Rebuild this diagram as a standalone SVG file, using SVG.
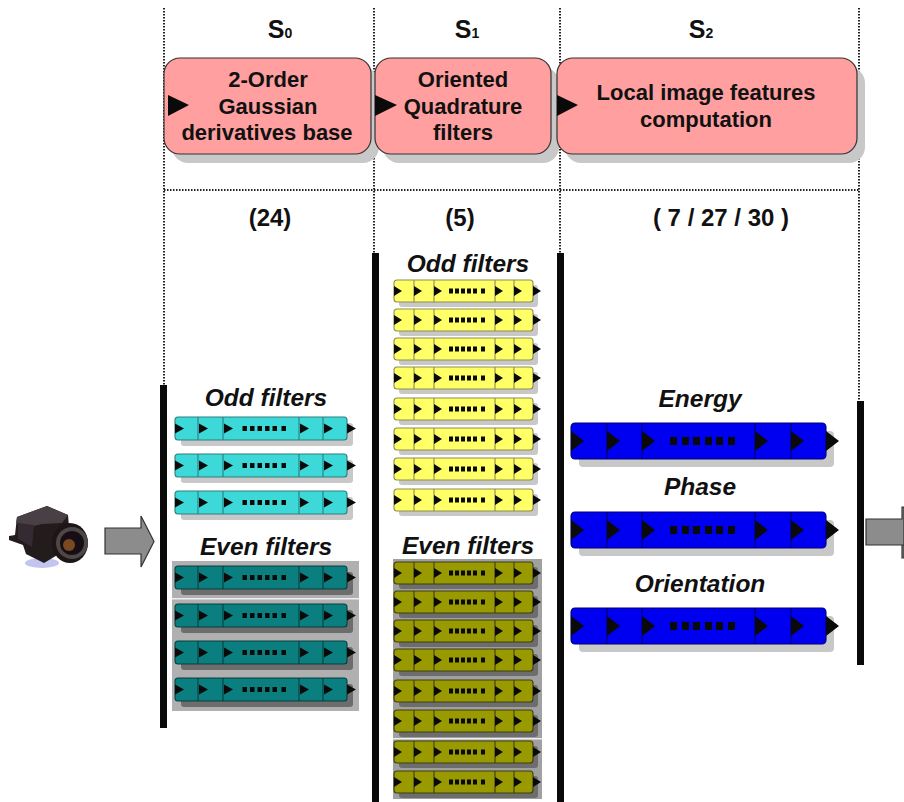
<svg xmlns="http://www.w3.org/2000/svg" xmlns:xlink="http://www.w3.org/1999/xlink" width="904" height="802" viewBox="0 0 904 802">
<style>
text{font-family:"Liberation Sans",Arial,sans-serif;font-weight:bold;fill:#111;text-anchor:middle}
.t{font-size:22px}
.h{font-size:25px}
.sub{font-size:14px}
.i{font-size:24.500px;font-style:italic}
.n{font-size:24px}
.dot{fill:none;stroke:#222;stroke-width:2;stroke-dasharray:1.5 1.5}
.rail{fill:#0a0a0a}
.box{fill:#ff9f9f;stroke:#333;stroke-width:1.2}
.shade{fill:#c8c8c8}
.hd{fill:#0a0a0a}
.big{fill:#8c8c8c;stroke:#333;stroke-width:1.2}
.bar{stroke-width:1.1}
.cy{fill:#3dd8d8;stroke:#2c7f7f}
.te{fill:#0b7f7f;stroke:#063f3f}
.ye{fill:#ffff66;stroke:#8d8d50}
.ol{fill:#999900;stroke:#3f3f10}
.bl{fill:#0000f0;stroke:#000070}
.sl{fill:#c8c8c8}
.sd{fill:#6d6d6d}
.panelA{fill:#b0b0b0}
.panelB{fill:#a0a0a0}
</style>
<defs>
<filter id="soft" x="-10%" y="-10%" width="120%" height="120%"><feGaussianBlur stdDeviation="0.7"/></filter>
<g id="marksA">
<path class="hd" d="M0 6.500l9 5-9 5zM24 6.500l9 5-9 5zM49 6.500l9 5-9 5zM125 6.500l9 5-9 5zM149 6.500l9 5-9 5zM172 6.500l9 5-9 5z"/>
<path class="hd" d="M67.500 9h4.500v5h-4.500zM75 9h4.500v5h-4.500zM82.500 9h4.500v5h-4.500zM90 9h4.500v5h-4.500zM97.500 9h4.500v5h-4.500zM106.500 9h4.500v5h-4.500z"/>
</g>
<g id="marksB">
<path class="hd" d="M0 6l8 5-8 5zM20 6l8 5-8 5zM40 6l8 5-8 5zM101 6l8 5-8 5zM120 6l8 5-8 5zM139 6l8 5-8 5z"/>
<path class="hd" d="M55 8.500h4v5h-4zM61 8.500h4v5h-4zM67 8.500h4v5h-4zM73 8.500h4v5h-4zM79 8.500h4v5h-4zM87 8.500h4v5h-4z"/>
</g>
<g id="cyan">
<rect class="sl" x="6" y="6" width="172" height="23" rx="3"/>
<path class="bar cy" d="M3 0H169a3 3 0 0 1 3 3V20a3 3 0 0 1-3 3H3a3 3 0 0 1-3-3V3a3 3 0 0 1 3-3z"/>
<path class="bar cy" d="M23 0V23M48 0V23M124 0V23M148 0V23"/><use href="#marksA"/>
</g>
<g id="teal">
<rect class="sd" x="6" y="6" width="172" height="23" rx="3"/>
<path class="bar te" d="M3 0H169a3 3 0 0 1 3 3V20a3 3 0 0 1-3 3H3a3 3 0 0 1-3-3V3a3 3 0 0 1 3-3z"/>
<path class="bar te" d="M23 0V23M48 0V23M124 0V23M148 0V23"/><use href="#marksA"/>
</g>
<g id="yellow">
<rect class="sl" x="5" y="5" width="139" height="22" rx="3"/>
<path class="bar ye" d="M3 0H136a3 3 0 0 1 3 3V19a3 3 0 0 1-3 3H3a3 3 0 0 1-3-3V3a3 3 0 0 1 3-3z"/>
<path class="bar ye" d="M20 0V22M40 0V22M101 0V22M120 0V22"/><use href="#marksB"/>
</g>
<g id="olive">
<rect class="sd" x="5" y="5" width="139" height="22" rx="3"/>
<path class="bar ol" d="M3 0H136a3 3 0 0 1 3 3V19a3 3 0 0 1-3 3H3a3 3 0 0 1-3-3V3a3 3 0 0 1 3-3z"/>
<path class="bar ol" d="M20 0V22M40 0V22M101 0V22M120 0V22"/><use href="#marksB"/>
</g>
<g id="blue">
<rect class="sl" x="8" y="8" width="255" height="36" rx="4"/>
<path class="bar bl" d="M4 0H251a4 4 0 0 1 4 4V32a4 4 0 0 1-4 4H4a4 4 0 0 1-4-4V4a4 4 0 0 1 4-4z"/>
<path class="bar bl" d="M36 0V36M71 0V36M184 0V36M220 0V36"/>
<path class="hd" d="M0 8l13 10-13 10zM36 8l13 10-13 10zM71 8l13 10-13 10zM184 8l13 10-13 10zM220 8l13 10-13 10zM255 8l13 10-13 10z"/>
<path class="hd" d="M99 14h7v8h-7zM111 14h7v8h-7zM122 14h7v8h-7zM134 14h7v8h-7zM145 14h7v8h-7zM157 14h7v8h-7z"/>
</g>
</defs>

<g id="connectors">
<path class="dot" d="M164 8V385M374 8V253M560 8V253M859 8V401M164 190H859"/>
<rect class="rail" x="160" y="385" width="7" height="343"/>
<rect class="rail" x="372" y="253" width="7" height="549"/>
<rect class="rail" x="557" y="253" width="7" height="549"/>
<rect class="rail" x="857" y="401" width="7" height="264"/>
<path class="big" d="M105 528H141V516L154 541.500 141 567V554H105Z"/>
<path class="big" d="M904 519V545H866V519H902V507H904V558H902V545"/>
</g>

<g id="camera">
<g filter="url(#soft)">
<ellipse cx="42" cy="563" rx="17" ry="5" fill="#c4c4f0"/>
<path d="M9 536l6-1 2-18 30-11 21 9 1 12-10 27-15 9-18-9-3-9-14-5z" fill="#221a1c"/>
<path d="M17 517l30-11 21 9-6 8-20 1-8 2-18-3z" fill="#4a4144"/>
<path d="M18 523l16 2-2 22-14-8z" fill="#352c30"/>
<ellipse cx="70" cy="543" rx="18" ry="20" fill="#1e1819"/>
<circle cx="72" cy="543" r="16" fill="#4d4644"/>
<circle cx="72" cy="543" r="12" fill="#141012"/>
<circle cx="69" cy="545" r="6" fill="#7a4a22"/>
</g>
</g>

<g id="s0">
<text class="h" x="280" y="38">S<tspan class="sub">0</tspan></text>
<rect class="shade" x="172" y="67" width="207" height="96" rx="16"/>
<rect class="box" x="164" y="58" width="207" height="96" rx="16"/>
<path class="hd" d="M168 95l21 10-21 11z"/>
<text class="t" x="268" y="87">2-Order</text>
<text class="t" x="268" y="114">Gaussian</text>
<text class="t" x="267" y="140">derivatives base</text>
<text class="n" x="270" y="226">(24)</text>
</g>

<g id="s1">
<text class="h" x="467" y="38">S<tspan class="sub">1</tspan></text>
<rect class="shade" x="383" y="67" width="176" height="96" rx="16"/>
<rect class="box" x="375" y="58" width="176" height="96" rx="16"/>
<path class="hd" d="M375 95l22 10-22 11z"/>
<text class="t" x="463" y="87">Oriented</text>
<text class="t" x="463" y="114">Quadrature</text>
<text class="t" x="463" y="140">filters</text>
<text class="n" x="460" y="226">(5)</text>
</g>

<g id="s2">
<text class="h" x="701" y="38">S<tspan class="sub">2</tspan></text>
<rect class="shade" x="565" y="67" width="300" height="96" rx="16"/>
<rect class="box" x="557" y="58" width="300" height="96" rx="16"/>
<path class="hd" d="M557 95l21 10-21 11z"/>
<text class="t" x="706" y="100">Local image features</text>
<text class="t" x="706" y="127">computation</text>
<text class="n" x="721" y="226">( 7 / 27 / 30 )</text>
</g>

<g id="s0-odd">
<text class="i" x="266" y="406">Odd filters</text>
<use href="#cyan" x="175" y="417"/>
<use href="#cyan" x="175" y="454"/>
<use href="#cyan" x="175" y="491"/>
</g>

<g id="s0-even">
<text class="i" x="266" y="555">Even filters</text>
<rect class="panelA" x="172" y="561" width="187" height="150"/>
<rect x="172" y="598" width="187" height="1.500" fill="#eee"/>
<use href="#teal" x="175" y="566"/>
<use href="#teal" x="175" y="604"/>
<use href="#teal" x="175" y="641"/>
<use href="#teal" x="175" y="678"/>
</g>

<g id="s1-odd">
<text class="i" x="468" y="272">Odd filters</text>
<use href="#yellow" x="394" y="280"/>
<use href="#yellow" x="394" y="309"/>
<use href="#yellow" x="394" y="338"/>
<use href="#yellow" x="394" y="367"/>
<use href="#yellow" x="394" y="398"/>
<use href="#yellow" x="394" y="428"/>
<use href="#yellow" x="394" y="458"/>
<use href="#yellow" x="394" y="489"/>
</g>

<g id="s1-even">
<text class="i" x="468" y="554">Even filters</text>
<rect class="panelB" x="393" y="559" width="149" height="240"/>
<rect x="393" y="738" width="149" height="1.500" fill="#eee"/>
<use href="#olive" x="394" y="562"/>
<use href="#olive" x="394" y="591"/>
<use href="#olive" x="394" y="620"/>
<use href="#olive" x="394" y="649"/>
<use href="#olive" x="394" y="680"/>
<use href="#olive" x="394" y="710"/>
<use href="#olive" x="394" y="741"/>
<use href="#olive" x="394" y="771"/>
</g>

<g id="s2-energy">
<text class="i" x="700" y="407">Energy</text>
<use href="#blue" x="571" y="423"/>
</g>
<g id="s2-phase">
<text class="i" x="700" y="495">Phase</text>
<use href="#blue" x="571" y="512"/>
</g>
<g id="s2-orientation">
<text class="i" x="700" y="592">Orientation</text>
<use href="#blue" x="571" y="608"/>
</g>
</svg>
